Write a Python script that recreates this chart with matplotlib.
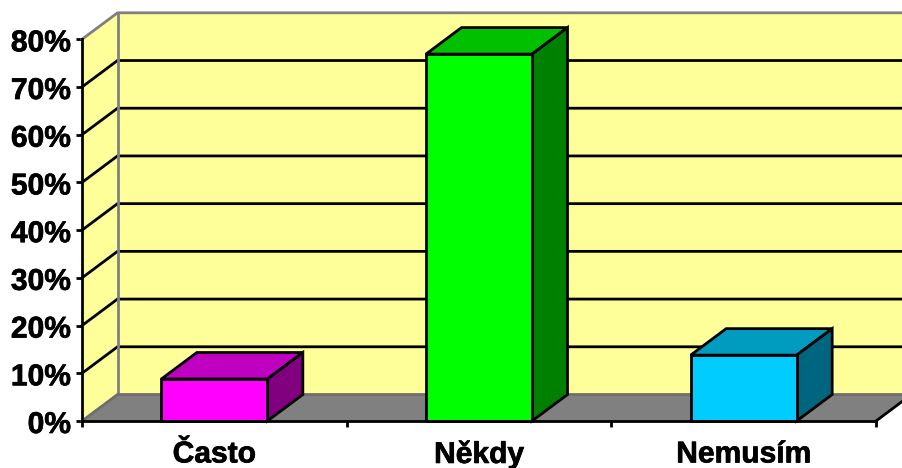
import matplotlib
matplotlib.use("Agg")
import matplotlib.pyplot as plt
import matplotlib.patheffects as pe
from matplotlib.patches import Polygon
from matplotlib.transforms import ScaledTranslation

categories = ["Často", "Někdy", "Nemusím"]
values = [8.8, 76.9, 13.8]
front_colors = ["#FF00FF", "#00FF00", "#00CCFF"]
top_colors = ["#C000C0", "#00C000", "#009CC0"]
side_colors = ["#800080", "#008000", "#006680"]
y_ticks = [0, 10, 20, 30, 40, 50, 60, 70, 80]
y_labels = ["0%", "10%", "20%", "30%", "40%", "50%", "60%", "70%", "80%"]

W, H = 902, 468
L, R, T, B = 82, 876, 39.3, 421
plt.rcParams["font.family"] = ["Liberation Sans", "DejaVu Sans"]
plt.rcParams["font.weight"] = "bold"
plt.rcParams["font.size"] = 21.6

fig = plt.figure(figsize=(W / 100, H / 100), dpi=100, facecolor="white")
ax = fig.add_axes([L / W, 1 - B / H, (R - L) / W, (B - T) / H])
ax.set_xlim(0, 3)
ax.set_ylim(0, 80)
ax.patch.set_visible(False)

# depth of the 3-D box in data units
dx = 35.5 * 3 / (R - L)
dy = 26.5 * 80 / (B - T)
bar_w = 106 * 3 / (R - L)
LW = 2.0
GRAY = "#808080"
WALL = "#FFFF99"


def poly(pts, fc, ec="black", z=2, lw=LW):
    ax.add_patch(Polygon(pts, closed=True, facecolor=fc, edgecolor=ec, linewidth=lw,
                         joinstyle="miter", clip_on=False, zorder=z))


ymax = y_ticks[-1]
# walls and floor
poly([(0, 0), (dx, dy), (3 + dx, dy), (3 + dx, ymax + dy), (dx, ymax + dy)], WALL, "none", 1, 0)
poly([(0, 0), (dx, dy), (dx, ymax + dy), (0, ymax)], WALL, "none", 1, 0)
poly([(0, 0), (dx, dy), (3 + dx, dy), (3, 0)], GRAY, "none", 1.1, 0)

# gridlines on side and back walls
for v in y_ticks[1:-1]:
    ax.plot([0, dx, 3 + dx], [v, v + dy, v + dy], color="black", lw=LW, clip_on=False,
            zorder=1.5, solid_joinstyle="miter")
# wall outlines
ax.plot([0, dx, 3 + dx], [ymax, ymax + dy, ymax + dy], color=GRAY, lw=LW, clip_on=False, zorder=1.6)
ax.plot([dx, dx], [dy, ymax + dy], color=GRAY, lw=LW, clip_on=False, zorder=1.6)
ax.plot([0, dx, 3 + dx], [0, dy, dy], color="#6E6E6E", lw=LW, clip_on=False, zorder=1.6)
ax.plot([3, 3 + dx], [0, dy], color="black", lw=LW, clip_on=False, zorder=1.6)

# bars
for i, v in enumerate(values):
    x0 = i + 0.5 - bar_w / 2
    x1 = i + 0.5 + bar_w / 2
    poly([(x0, v), (x0 + dx, v + dy), (x1 + dx, v + dy), (x1, v)], top_colors[i], z=3)
    poly([(x1, 0), (x1 + dx, dy), (x1 + dx, v + dy), (x1, v)], side_colors[i], z=3)
    poly([(x0, 0), (x1, 0), (x1, v), (x0, v)], front_colors[i], z=4)

# axes
for s in ("top", "right"):
    ax.spines[s].set_visible(False)
for s in ("left", "bottom"):
    ax.spines[s].set_linewidth(LW)
    ax.spines[s].set_zorder(5)
ax.set_yticks(y_ticks, y_labels)
ax.set_xticks([0, 1, 2, 3], ["", "", "", ""])
ax.set_xticks([0.5, 1.5, 2.5], categories, minor=True)
ax.tick_params(axis="y", length=4.5, width=LW, pad=3.5)
ax.tick_params(axis="x", which="major", length=4.5, width=LW)
ax.tick_params(axis="x", which="minor", length=0, pad=14)

# heavier text, y labels nudged one pixel down
stroke = [pe.withStroke(linewidth=0.5, foreground="black")]
nudge = ScaledTranslation(0, -1 / 100, fig.dpi_scale_trans)
for t in ax.get_yticklabels():
    t.set_path_effects(stroke)
    t.set_transform(t.get_transform() + nudge)
for t in ax.get_xticklabels(minor=True):
    t.set_path_effects(stroke)

fig.savefig("out.png", dpi=100, facecolor="white")
